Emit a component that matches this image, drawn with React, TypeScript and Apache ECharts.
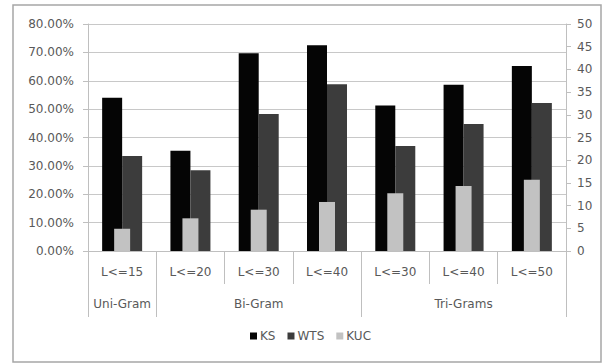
import React, { useEffect, useRef } from 'react';
import * as echarts from 'echarts';

// Length subsets per n-gram family
const subsets = ['L<=15', 'L<=20', 'L<=30', 'L<=40', 'L<=30', 'L<=40', 'L<=50'];
// Family names, placed under the middle subset of each family
const groupLabels = ['Uni-Gram', '', 'Bi-Gram', '', '', 'Tri-Grams', ''];
// Category boundaries that separate the families
const groupBoundaries = [0, 1, 4, 7];

// Percent scores (left axis)
const ks = [54.0, 35.3, 69.7, 72.5, 51.3, 58.6, 65.2];
const wts = [33.5, 28.5, 48.3, 58.8, 37.0, 44.8, 52.2];
// KUC values (right axis)
const kuc = [4.9, 7.2, 9.1, 10.8, 12.7, 14.3, 15.7];

const leftTicks = { min: 0, max: 80, interval: 10 };
const rightTicks = { min: 0, max: 50, interval: 5 };

const FONT = 'DejaVu Sans';
const TEXT = '#595959';
const LINE = '#bfbfbf';

export default function App() {
  const ref = useRef<HTMLDivElement>(null);

  useEffect(() => {
    if (!ref.current) return;
    const chart = echarts.init(ref.current, undefined, { renderer: 'svg' });
    chart.setOption({
      animation: false,
      backgroundColor: '#ffffff',
      textStyle: { fontFamily: FONT, color: TEXT },
      grid: { left: 88, right: 41, top: 24, bottom: 112, containLabel: false },
      graphic: [
        {
          type: 'rect',
          shape: { x: 13, y: 5, width: 588, height: 357 },
          style: { fill: 'none', stroke: '#a6a6a6', lineWidth: 1.5 },
          silent: true,
        },
      ],
      legend: {
        bottom: 16,
        left: 245,
        itemWidth: 7,
        itemHeight: 7,
        itemGap: 12,
        icon: 'rect',
        textStyle: { fontFamily: FONT, fontSize: 12, color: TEXT, padding: [0, 0, 0, -2] },
        data: ['KS', 'WTS', 'KUC'],
      },
      xAxis: [
        {
          type: 'category',
          data: subsets,
          position: 'bottom',
          axisLine: { show: true, lineStyle: { color: LINE } },
          axisTick: { show: true, interval: 0, length: 33, lineStyle: { color: LINE } },
          axisLabel: { interval: 0, margin: 15, fontSize: 12, color: TEXT, fontFamily: FONT },
        },
        {
          type: 'category',
          data: subsets,
          show: false,
        },
        {
          type: 'category',
          data: subsets,
          position: 'bottom',
          offset: 33,
          axisLine: { show: false },
          axisTick: {
            show: true,
            length: 33,
            interval: (index: number) => groupBoundaries.includes(index),
            lineStyle: { color: LINE },
          },
          axisLabel: {
            interval: 0,
            margin: 14,
            fontSize: 12,
            color: TEXT,
            fontFamily: FONT,
            formatter: (_v: string, i: number) => groupLabels[i],
          },
        },
      ],
      yAxis: [
        {
          type: 'value',
          ...leftTicks,
          axisLine: { show: true, lineStyle: { color: LINE } },
          axisTick: { show: true, length: 5, lineStyle: { color: LINE } },
          splitLine: { show: true, lineStyle: { color: '#c8c8c8' } },
          axisLabel: {
            margin: 14,
            fontSize: 12,
            color: TEXT,
            fontFamily: FONT,
            formatter: (v: number) => v.toFixed(2) + '%',
          },
        },
        {
          type: 'value',
          position: 'right',
          ...rightTicks,
          axisLine: { show: true, lineStyle: { color: LINE } },
          axisTick: { show: true, length: 5, lineStyle: { color: LINE } },
          splitLine: { show: false },
          axisLabel: { margin: 11, fontSize: 12, color: TEXT, fontFamily: FONT },
        },
      ],
      series: [
        {
          name: 'KS',
          type: 'bar',
          xAxisIndex: 0,
          yAxisIndex: 0,
          barWidth: 20,
          barGap: '0%',
          itemStyle: { color: '#050505' },
          data: ks,
        },
        {
          name: 'WTS',
          type: 'bar',
          xAxisIndex: 0,
          yAxisIndex: 0,
          barWidth: 20,
          barGap: '0%',
          itemStyle: { color: '#3c3c3c' },
          data: wts,
        },
        {
          name: 'KUC',
          type: 'bar',
          xAxisIndex: 1,
          yAxisIndex: 1,
          barWidth: 16,
          itemStyle: { color: '#c2c2c2' },
          data: kuc,
        },
      ],
    });
    return () => chart.dispose();
  }, []);

  return (
    <div
      ref={ref}
      style={{ position: 'fixed', left: 0, top: 0, width: 607, height: 363, background: '#fff' }}
    />
  );
}
